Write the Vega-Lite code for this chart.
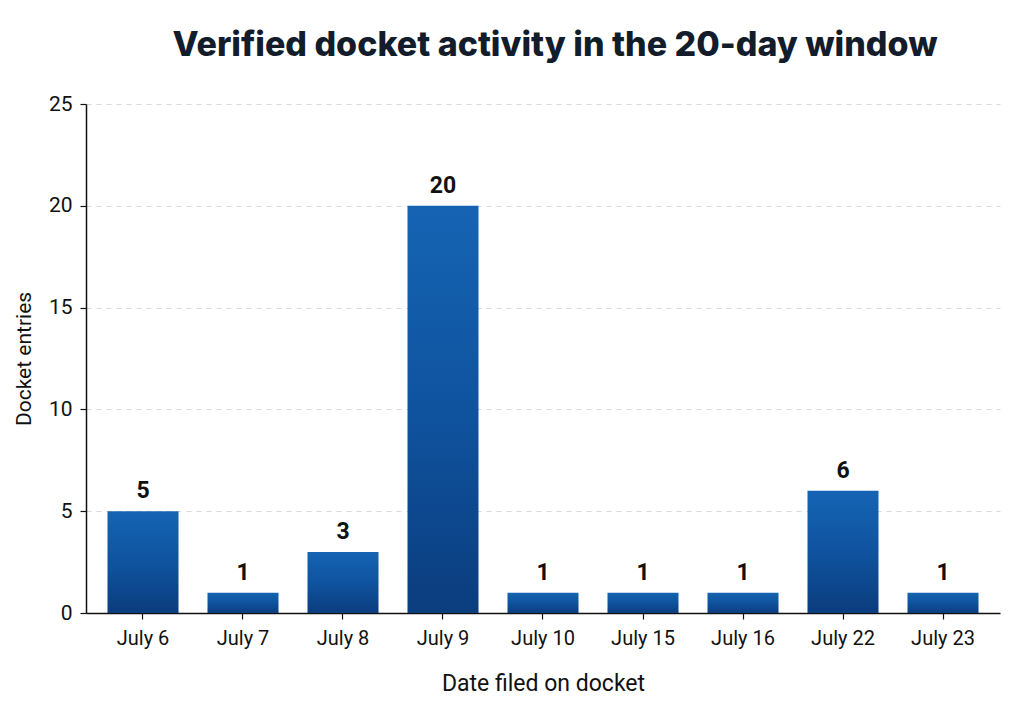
{
  "$schema": "https://vega.github.io/schema/vega-lite/v6.json",
  "autosize": "none",
  "width": 914,
  "height": 509,
  "padding": {"left": 86, "top": 104, "right": 24, "bottom": 112},
  "background": "#ffffff",
  "title": {
    "text": "Verified docket activity in the 20-day window",
    "font": "Inter",
    "fontSize": 34,
    "fontWeight": 800,
    "color": "#121c2b",
    "anchor": "middle",
    "dx": 12,
    "offset": 30
  },
  "data": {
    "values": [
      {"date": "July 6", "entries": 5},
      {"date": "July 7", "entries": 1},
      {"date": "July 8", "entries": 3},
      {"date": "July 9", "entries": 20},
      {"date": "July 10", "entries": 1},
      {"date": "July 15", "entries": 1},
      {"date": "July 16", "entries": 1},
      {"date": "July 22", "entries": 6},
      {"date": "July 23", "entries": 1}
    ]
  },
  "config": {
    "view": {"stroke": null},
    "font": "Roboto",
    "axis": {
      "labelFont": "Roboto",
      "titleFont": "Roboto",
      "labelColor": "#111111",
      "titleColor": "#111111",
      "domainColor": "#111111",
      "tickColor": "#111111",
      "domainWidth": 1.5,
      "tickWidth": 1.2
    }
  },
  "encoding": {
    "x": {
      "field": "date",
      "type": "nominal",
      "sort": null,
      "scale": {"paddingInner": 0.29, "paddingOuter": 0.215},
      "axis": {
        "title": "Date filed on docket",
        "titleFontSize": 23,
        "titleFontWeight": "normal",
        "titlePadding": 24,
        "labelFontSize": 20,
        "labelAngle": 0,
        "labelPadding": 9,
        "tickSize": 6,
        "grid": false
      }
    },
    "y": {
      "field": "entries",
      "type": "quantitative",
      "scale": {"domain": [0, 25]},
      "axis": {
        "title": "Docket entries",
        "titleFontSize": 21,
        "titleFontWeight": "normal",
        "titlePadding": 14,
        "labelFontSize": 21,
        "labelPadding": 8,
        "tickSize": 6,
        "values": [0, 5, 10, 15, 20, 25],
        "grid": true,
        "gridColor": "#d9d9d9",
        "gridDash": [5, 5],
        "gridWidth": 1
      }
    }
  },
  "layer": [
    {
      "mark": {
        "type": "bar",
        "color": {
          "gradient": "linear",
          "x1": 0, "y1": 0, "x2": 0, "y2": 1,
          "stops": [
            {"offset": 0, "color": "#1564b3"},
            {"offset": 0.5, "color": "#0f539f"},
            {"offset": 1, "color": "#0b3d7e"}
          ]
        }
      }
    },
    {
      "mark": {
        "type": "text",
        "baseline": "bottom",
        "dy": -8,
        "fontSize": 23,
        "fontWeight": "bold",
        "font": "Roboto",
        "color": "#111111"
      },
      "encoding": {"text": {"field": "entries", "type": "quantitative"}}
    }
  ]
}
